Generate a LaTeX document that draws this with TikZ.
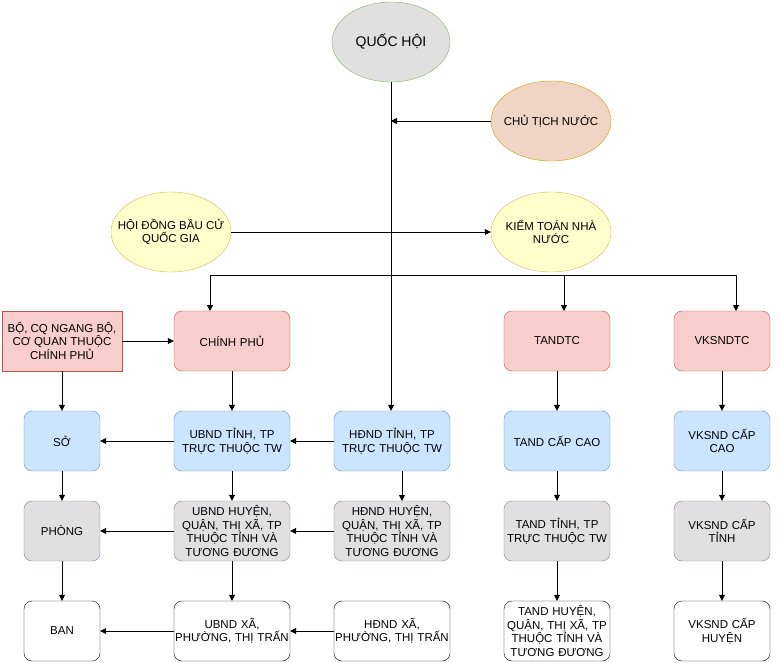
\documentclass[tikz,border=0pt]{standalone}
\usepackage{fontspec}
\setmainfont{Liberation Sans}
\usetikzlibrary{shapes.geometric,arrows.meta}
\definecolor{rf}{HTML}{F8CECC}\definecolor{rs}{HTML}{B85450}
\definecolor{bf}{HTML}{CCE5FF}\definecolor{bs}{HTML}{6C8EBF}
\definecolor{gf}{HTML}{E0E0E0}\definecolor{gs}{HTML}{9673A6}
\definecolor{yf}{HTML}{FFFFCC}\definecolor{ys}{HTML}{D6B656}
\definecolor{of}{HTML}{F0D5C5}\definecolor{os}{HTML}{D79B00}
\definecolor{qs}{HTML}{82B366}
\begin{document}
\begin{tikzpicture}[x=1pt,y=-1pt,
  every node/.style={font=\fontsize{11.5}{13.5}\selectfont,align=center,inner sep=1pt},
  ell/.style={ellipse,draw,minimum width=120,minimum height=80,inner sep=0},
  box/.style={rounded corners=8pt,draw,minimum height=60,text width=#1-6},
  red/.style={fill=rf,draw=rs},blue/.style={fill=bf,draw=bs},
  gray/.style={fill=gf,draw=gs},wht/.style={fill=white,draw=black},
  arr/.style={-{Triangle[length=6pt,width=6pt]},line width=0.8pt},
  ln/.style={line width=0.8pt}]
\useasboundingbox (0,0) rectangle (781,663);
\node[ell,fill=gf,draw=qs,minimum width=118] (qh) at (391,42) {};
\node at (qh) {\fontsize{14}{16}\selectfont QUỐC HỘI};
\node[ell,fill=of,draw=os] (ct) at (551,121) {};
\node at (ct) {CHỦ TỊCH NƯỚC};
\node[ell,fill=yf,draw=ys] (hd) at (171,232) {};
\node at (hd) {HỘI ĐỒNG BẦU CỬ\\QUỐC GIA};
\node[ell,fill=yf,draw=ys] (kt) at (551,232) {};
\node at (kt) {KIỂM TOÁN NHÀ\\NƯỚC};
\node[draw=rs,fill=rf,minimum width=120,minimum height=60] (bo) at (62,341) {BỘ, CQ NGANG BỘ,\\CƠ QUAN THUỘC\\CHÍNH PHỦ};
\node[box=120,red] (cp) at (232,341) {CHÍNH PHỦ};
\node[box=110,red] (ta0) at (557,341) {TANDTC};
\node[box=100,red] (vk0) at (722,341) {VKSNDTC};
\node[box=80,blue] (so) at (62,441) {SỞ};
\node[box=120,blue] (ub1) at (232,441) {UBND TỈNH, TP TRỰC THUỘC TW};
\node[box=120,blue] (hn1) at (392,441) {HĐND TỈNH, TP TRỰC THUỘC TW};
\node[box=110,blue] (ta1) at (557,441) {TAND CẤP CAO};
\node[box=100,blue] (vk1) at (722,441) {VKSND CẤP\\CAO};
\node[box=80,gray] (ph) at (62,531) {PHÒNG};
\node[box=120,gray] (ub2) at (232,531) {UBND HUYỆN, QUẬN, THỊ XÃ, TP THUỘC TỈNH VÀ TƯƠNG ĐƯƠNG};
\node[box=120,gray] (hn2) at (392,531) {HĐND HUYỆN, QUẬN, THỊ XÃ, TP THUỘC TỈNH VÀ TƯƠNG ĐƯƠNG};
\node[box=110,gray] (ta2) at (557,531) {TAND TỈNH, TP TRỰC THUỘC TW};
\node[box=100,gray] (vk2) at (722,531) {VKSND CẤP\\TỈNH};
\node[box=80,wht] (ban) at (62,631) {BAN};
\node[box=120,wht] (ub3) at (232,631) {UBND XÃ, PHƯỜNG, THỊ TRẤN};
\node[box=120,wht] (hn3) at (392,631) {HĐND XÃ, PHƯỜNG, THỊ TRẤN};
\node[box=110,wht] (ta3) at (557,631) {TAND HUYỆN, QUẬN, THỊ XÃ, TP THUỘC TỈNH VÀ TƯƠNG ĐƯƠNG};
\node[box=100,wht] (vk3) at (722,631) {VKSND CẤP\\HUYỆN};
\coordinate (j) at (391,121);
\draw[arr] (qh.south) -- (qh.south |- hn1.north);
\draw[arr] (ct) -- (j);
\draw[arr] (hd) -- (kt);
\draw[ln] (210,275) -- (736,275);
\draw[arr] (210,275) -- (210,311);
\draw[arr] (564,275) -- (564,311);
\draw[arr] (736,275) -- (736,311);
\draw[arr] (bo) -- (cp);
\draw[arr] (bo) -- (so);
\draw[arr] (so) -- (ph);
\draw[arr] (ph) -- (ban);
\draw[arr] (cp) -- (ub1);
\draw[arr] (ub1) -- (so);
\draw[arr] (ub1) -- (ub2);
\draw[arr] (ub2) -- (ph);
\draw[arr] (ub2) -- (ub3);
\draw[arr] (ub3) -- (ban);
\draw[arr] (hn1) -- (ub1);
\draw[arr] (hn2) -- (ub2);
\draw[arr] (hn3) -- (ub3);
\draw[arr] (402,471) -- (402,501);
\draw[arr] (ta0) -- (ta1); \draw[arr] (ta1) -- (ta2); \draw[arr] (ta2) -- (ta3);
\draw[arr] (vk0) -- (vk1); \draw[arr] (vk1) -- (vk2); \draw[arr] (vk2) -- (vk3);
\end{tikzpicture}
\end{document}
